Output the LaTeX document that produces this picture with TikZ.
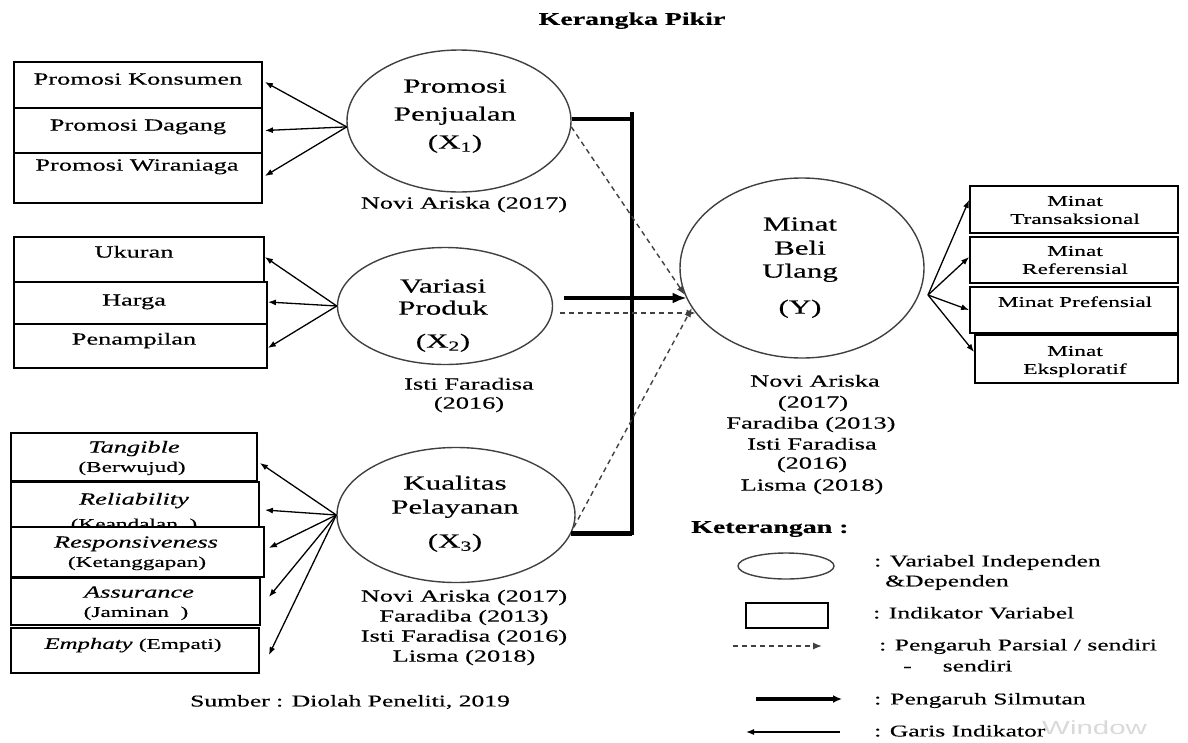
\documentclass[tikz,border=0pt]{standalone}
\usepackage{fontspec}
\setmainfont{Liberation Serif}[FakeStretch=1.55,FakeBold=0.35]
\newfontfamily\wmfont{Liberation Sans}[FakeStretch=1.55]
\usetikzlibrary{arrows.meta,shapes.geometric,calc}
\begin{document}
\begin{tikzpicture}[x=1pt,y=-1pt,
  txt/.style={inner sep=0pt, text depth=0pt},
  t20/.style={txt, font=\fontsize{20}{22}\selectfont, text height=13.2pt},
  t18b/.style={txt, font=\bfseries\fontsize{18}{20}\selectfont, text height=11.9pt},
  t17/.style={txt, font=\fontsize{17}{20}\selectfont, text height=11.2pt},
  t17i/.style={txt, font=\itshape\fontsize{17}{20}\selectfont, text height=11.2pt},
  t16/.style={txt, font=\fontsize{16.5}{19}\selectfont, text height=10.9pt},
  t15/.style={txt, font=\fontsize{15}{18}\selectfont, text height=9.9pt},
  ibox/.style={draw=black, line width=1.8pt, fill=white, inner sep=0pt},
  ell/.style={ellipse, draw=black!75, line width=1.4pt, inner sep=0pt},
  ind/.style={line width=1.3pt, -{Latex[length=8pt,width=6pt]}},
  dsh/.style={line width=1.4pt, black!75, dash pattern=on 5pt off 4pt, -{Latex[length=9pt,width=7pt]}},
  thk/.style={line width=4.5pt},
  thkarrow/.style={line width=4.5pt, -{Latex[length=14pt,width=11pt]}}
]
\useasboundingbox (0,0) rectangle (1188,742);

% title
\node[t18b] (title) at (632,19) {Kerangka Pikir};

% ---------- group 1 ----------
\node[ibox, minimum width=248pt, minimum height=46pt] (B11) at (138,85) {};
\node[ibox, minimum width=248pt, minimum height=45pt] (B12) at (138,130.5) {};
\node[ibox, minimum width=248pt, minimum height=50pt] (B13) at (138,178) {};
\node[t17] (tB11) at (138,79) {Promosi Konsumen};
\node[t17] (tB12) at (138,125) {Promosi Dagang};
\node[t17] (tB13) at (137,165) {Promosi Wiraniaga};

\node[ell, minimum width=224pt, minimum height=142pt] (E1) at (459,121) {};
\node[t20] (tE1a) at (455,86) {Promosi};
\node[t20] (tE1b) at (455,114) {Penjualan};
\node[t20] (tE1c) at (455,142) {(X\textsubscript{1})};
\node[t17] (cE1) at (464,203) {Novi Ariska (2017)};

\draw[ind] (E1.183) -- ([xshift=2pt,yshift=3pt]B11.east);
\draw[ind] (E1.183) -- ([xshift=2pt]B12.east);
\draw[ind] (E1.183) -- ([xshift=2pt,yshift=2pt]B13.east);

% ---------- group 2 ----------
\node[ibox, minimum width=250pt, minimum height=45pt] (B21) at (139,259.5) {};
\node[ibox, minimum width=253pt, minimum height=42pt] (B22) at (140.5,303) {};
\node[ibox, minimum width=253pt, minimum height=44pt] (B23) at (140.5,346) {};
\node[t17] (tB21) at (134,252) {Ukuran};
\node[t17] (tB22) at (134,300) {Harga};
\node[t17] (tB23) at (134,339) {Penampilan};

\node[ell, minimum width=215pt, minimum height=117pt] (E2) at (445,306) {};
\node[t20] (tE2a) at (443,286) {Variasi};
\node[t20] (tE2b) at (443,308) {Produk};
\node[t20] (tE2c) at (443,341) {(X\textsubscript{2})};
\node[t17] (cE2a) at (469,384) {Isti Faradisa};
\node[t17] (cE2b) at (469,403) {(2016)};

\draw[ind] (E2.west) -- ([yshift=2.5pt]B21.east);
\draw[ind] (E2.west) -- ([yshift=1pt]B22.east);
\draw[ind] (E2.west) -- ([yshift=-2pt]B23.east);

% ---------- group 3 ----------
\node[ibox, minimum width=246pt, minimum height=48pt] (B31) at (134,457) {};
\node[t17i] (tB31a) at (134,447) {Tangible};
\node[t15] (tB31b) at (132,467) {(Berwujud)};
\node[ibox, minimum width=248pt, minimum height=45pt] (B32) at (135,504.5) {};
\node[t17i] (tB32a) at (134,499) {Reliability};
\node[t15] (tB32b) at (134,524) {(Keandalan\ \ )};
\node[ibox, minimum width=253pt, minimum height=50pt] (B33) at (137.5,552) {};
\node[t17i] (tB33a) at (136,542) {Responsiveness};
\node[t15] (tB33b) at (137,562) {(Ketanggapan)};
\node[ibox, minimum width=249pt, minimum height=47pt] (B34) at (135.5,601.5) {};
\node[t17i] (tB34a) at (139,592) {Assurance};
\node[t15] (tB34b) at (136,612) {(Jaminan\ \ )};
\node[ibox, minimum width=248pt, minimum height=45pt] (B35) at (135,650.5) {};
\node[t15] (tB35) at (133,644) {\fontsize{16}{18}\selectfont\textit{Emphaty} \fontsize{15}{18}\selectfont(Empati)};

\node[ell, minimum width=238pt, minimum height=135pt] (E3) at (456,515) {};
\node[t20] (tE3a) at (455,483) {Kualitas};
\node[t20] (tE3b) at (455,507) {Pelayanan};
\node[t20] (tE3c) at (455,541) {(X\textsubscript{3})};
\node[t17] (cE3a) at (464,596) {Novi Ariska (2017)};
\node[t17] (cE3b) at (464,616) {Faradiba (2013)};
\node[t17] (cE3c) at (464,636) {Isti Faradisa (2016)};
\node[t17] (cE3d) at (464,656) {Lisma (2018)};
\node[t16] (src) at (350,701) {Sumber : Diolah Peneliti, 2019};

\draw[ind] (E3.west) -- ([xshift=2pt,yshift=-6pt]B31.east);
\draw[ind] (E3.west) -- ([xshift=5pt,yshift=-5.5pt]B32.east);
\draw[ind] (E3.west) -- ([xshift=4pt,yshift=4pt]B33.east);
\draw[ind] (E3.west) -- ([xshift=8pt,yshift=4.5pt]B34.east);
\draw[ind] (E3.west) -- ([xshift=9pt,yshift=-4.5pt]B35.east);

% ---------- dependent ----------
\node[ell, minimum width=244pt, minimum height=180pt] (EY) at (802,268) {};
\node[t20] (tEYa) at (800,224) {Minat};
\node[t20] (tEYb) at (800,248) {Beli};
\node[t20] (tEYc) at (800,271) {Ulang};
\node[t20] (tEYd) at (800,307) {(Y)};
\node[t17] (cEYa) at (815,381) {Novi Ariska};
\node[t17] (cEYb) at (813,402) {(2017)};
\node[t17] (cEYc) at (811,423) {Faradiba (2013)};
\node[t17] (cEYd) at (812,444) {Isti Faradisa};
\node[t17] (cEYe) at (812,463) {(2016)};
\node[t17] (cEYf) at (812,485) {Lisma (2018)};

\node[ibox, minimum width=208pt, minimum height=47pt] (R1) at (1074,209.5) {};
\node[ibox, minimum width=208pt, minimum height=46pt] (R2) at (1074,260) {};
\node[ibox, minimum width=208pt, minimum height=46pt] (R3) at (1074,310) {};
\node[ibox, minimum width=203pt, minimum height=48pt] (R4) at (1076.5,359) {};
\node[t15] (tR1a) at (1075,201) {Minat};
\node[t15] (tR1b) at (1075,219) {Transaksional};
\node[t15] (tR2a) at (1075,251) {Minat};
\node[t15] (tR2b) at (1075,269) {Referensial};
\node[t15] (tR3) at (1075,302) {Minat Prefensial};
\node[t15] (tR4a) at (1075,351) {Minat};
\node[t15] (tR4b) at (1075,369) {Eksploratif};

\coordinate (yc) at (928,295);
\draw[ind] (yc) -- ([yshift=9.5pt]R1.west);
\draw[ind] (yc) -- ([yshift=3pt]R2.west);
\draw[ind] (yc) -- (R3.west);
\draw[ind] (yc) -- ([yshift=7pt]R4.west);

% ---------- simultaneous (thick) ----------
\coordinate (vt) at (632,112);
\coordinate (vb) at (632,535);
\draw[thk] (vt) -- (vb);
\draw[thk] (E1.1) -- (E1.1 -| vt);
\draw[thk] (E3.-9) -- (E3.-9 -| vb);
\coordinate (s2) at ([xshift=11pt,yshift=8pt]E2.east);
\draw[thkarrow] (s2) -- (s2 -| EY.195);

% ---------- partial (dashed) ----------
\coordinate (d2) at ([xshift=7pt,yshift=-7pt]E2.east);
\draw[dsh] (E1.-3) -- (EY.193);
\draw[dsh] (d2) -- (d2 -| EY.203);
\draw[dsh] (E3.-6) -- (EY.200);

% ---------- legend ----------
\node[t18b, anchor=west] (ket) at (691,527) {Keterangan :};
\node[ell, minimum width=96pt, minimum height=26pt] (lE) at (786,566) {};
\node[t16, anchor=west] (lEt1) at (874,561) {: Variabel Independen};
\node[t16, anchor=west] (lEt2) at (885,581) {\&Dependen};
\node[ibox, minimum width=82pt, minimum height=25pt] (lR) at (787,615.5) {};
\node[t16, anchor=west] (lRt) at (873,613) {: Indikator Variabel};
\coordinate (ld1) at (733,646);
\coordinate (ld2) at (822,646);
\draw[dsh] (ld1) -- (ld2);
\node[t16, anchor=west] (ldt1) at (879,645) {: Pengaruh Parsial / sendiri};
\node[t16, anchor=west] (ldt2) at (903,666) {-\hspace{31pt}sendiri};
\coordinate (lt1) at (756,699);
\coordinate (lt2) at (842,699);
\draw[line width=3.5pt, -{Latex[length=9pt,width=8pt]}] (lt1) -- (lt2);
\node[t16, anchor=west] (ltt) at (874,699) {:\hspace{9pt}Pengaruh Silmutan};
\coordinate (lg1) at (840,732);
\coordinate (lg2) at (746,732);
\draw[ind] (lg1) -- (lg2);
\node[anchor=west, inner sep=0pt, text=black!15, font=\wmfont\fontsize{19}{22}\selectfont] (wm) at (1042,728) {Window};
\node[t16, anchor=west] (lgt) at (874,731) {: Garis Indikator};
\end{tikzpicture}
\end{document}
